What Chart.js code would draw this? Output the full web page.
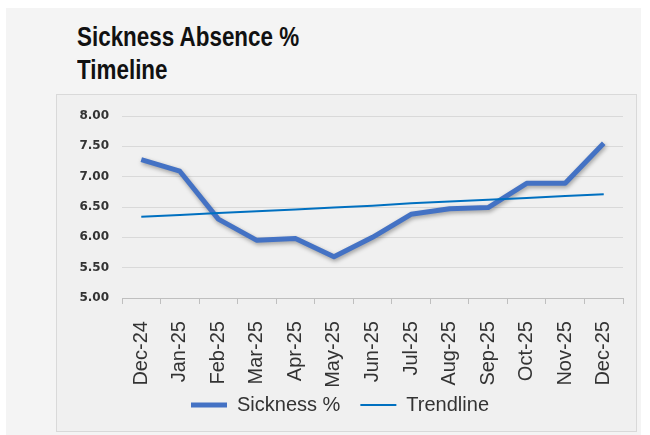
<!DOCTYPE html>
<html>
<head>
<meta charset="utf-8">
<title>Sickness Absence % Timeline</title>
<script src="https://cdn.jsdelivr.net/npm/chart.js@4/dist/chart.umd.min.js"></script>
<style>
  html, body { margin: 0; padding: 0; background: #fff; }
  body { width: 650px; height: 435px; position: relative; overflow: hidden; }
  #panel {
    position: absolute; left: 6px; top: 8px; width: 635px; height: 427px;
    background: #f4f4f4;
  }
  #titre {
    position: absolute; left: 77px; top: 21px;
    font-family: "Liberation Sans", Arial, sans-serif;
    font-weight: bold; font-size: 27px; line-height: 33px; color: #111;
    transform: scaleX(0.83); transform-origin: left top;
  }
  #cadre {
    position: absolute; left: 56px; top: 94px; width: 579px; height: 336px;
    border: 1px solid #d9d9d9; background: #f0f0f0;
  }
  #cadre canvas { display: block; }
</style>
</head>
<body>
<div id="panel"></div>
<div id="titre">Sickness Absence %<br>Timeline</div>
<div id="cadre"><canvas id="absenceChart" width="579" height="336"></canvas></div>

<script>
// mois affichés
const mois = ['Dec-24', 'Jan-25', 'Feb-25', 'Mar-25', 'Apr-25', 'May-25', 'Jun-25',
              'Jul-25', 'Aug-25', 'Sep-25', 'Oct-25', 'Nov-25', 'Dec-25'];
// taux d'absence maladie (%)
const sickness = [7.28, 7.09, 6.30, 5.95, 5.98, 5.68, 6.00, 6.38, 6.47, 6.49, 6.89, 6.89, 7.55];
// courbe de tendance
const trendline = [6.34, 6.37, 6.40, 6.43, 6.46, 6.49, 6.52, 6.56, 6.59, 6.62, 6.65, 6.68, 6.71];
const yTicks = [5.00, 5.50, 6.00, 6.50, 7.00, 7.50, 8.00];

// ombre sous la courbe principale
const ombreCourbe = {
    id: 'ombreCourbe',
    beforeDatasetDraw(chart, args) {
        if (args.index !== 0) return;
        let ctx = chart.ctx;
        ctx.save();
        ctx.shadowColor = 'rgba(0, 0, 0, 0.35)';
        ctx.shadowBlur = 4;
        ctx.shadowOffsetX = 1;
        ctx.shadowOffsetY = 2;
    },
    afterDatasetDraw(chart, args) {
        if (args.index !== 0) return;
        chart.ctx.restore();
    }
};

let data = {
    labels: mois,
    datasets: [{
        label: 'Sickness %',
        data: sickness,
        borderColor: '#4472C4',
        backgroundColor: '#4472C4',
        borderWidth: 5,
        borderJoinStyle: 'round',
        pointRadius: 0,
        tension: 0,
        fill: false,
        order: 2
    }, {
        label: 'Trendline',
        data: trendline,
        borderColor: '#0070C0',
        backgroundColor: '#0070C0',
        borderWidth: 2,
        pointRadius: 0,
        tension: 0,
        fill: false,
        order: 1
    }]
};

let options = {
    responsive: false,
    animation: false,
    layout: { padding: { top: 21, right: 13, bottom: 6, left: 0 } },
    plugins: {
        legend: {
            position: 'bottom',
            labels: {
                usePointStyle: true,
                pointStyle: 'line',
                pointStyleWidth: 36,
                padding: 20,
                color: '#333333',
                font: { family: 'Liberation Sans', size: 20 },
                sort: (a, b) => a.datasetIndex - b.datasetIndex
            }
        },
        tooltip: { enabled: false }
    },
    scales: {
        x: {
            offset: true,
            grid: {
                offset: true,
                drawOnChartArea: false,
                drawTicks: true,
                tickLength: 6,
                color: '#bfbfbf'
            },
            border: { color: '#bfbfbf' },
            ticks: {
                autoSkip: false,
                minRotation: 90,
                maxRotation: 90,
                padding: 6,
                color: '#333333',
                font: { family: 'Liberation Sans', size: 20 },
                // espaces en fin de libellé pour descendre le texte sous les graduations
                callback: (v, i) => mois[i] + '  '
            },
            afterFit: (scale) => {
                scale.height = 77;
                // les libellés débordent sur la légende : pas de découpage
                scale._computeLabelArea = () => undefined;
            }
        },
        y: {
            min: yTicks[0],
            max: yTicks[yTicks.length - 1],
            grid: { color: '#d9d9d9', drawTicks: false },
            border: { display: false },
            afterBuildTicks: (scale) => { scale.ticks = yTicks.map(v => ({ value: v })); },
            ticks: {
                padding: 13,
                color: '#333333',
                font: { family: 'DejaVu Sans', size: 12, weight: 'bold' },
                callback: (v) => Number(v).toFixed(2)
            },
            afterFit: (scale) => { scale.width = 65; }
        }
    }
};

let chart = new Chart(document.getElementById('absenceChart'), {
    type: 'line',
    data: data,
    options: options,
    plugins: [ombreCourbe]
});
</script>
</body>
</html>
